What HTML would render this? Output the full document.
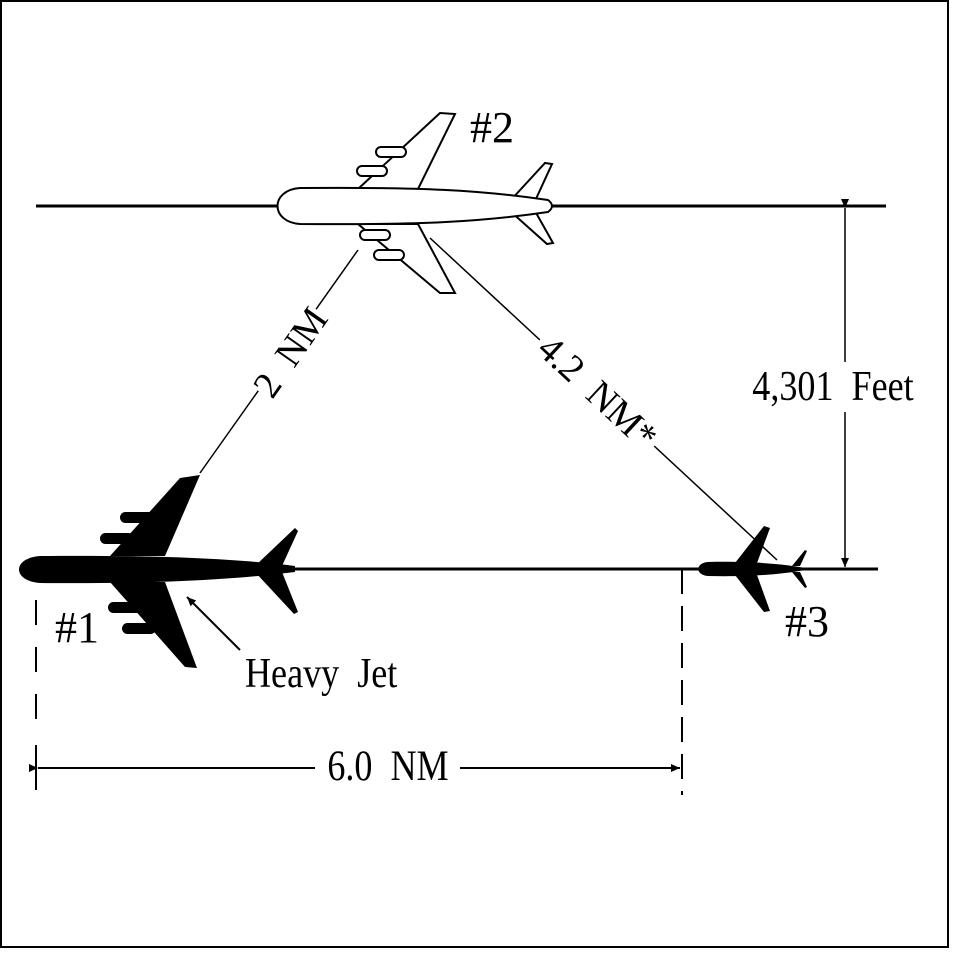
<!DOCTYPE html>
<html><head><style>html,body{margin:0;padding:0;background:#fff}svg{display:block}</style></head>
<body>
<svg width="955" height="955" viewBox="0 0 955 955" xmlns="http://www.w3.org/2000/svg" font-family="'Liberation Serif', serif">
<rect x="1" y="1" width="947" height="946" fill="#fff" stroke="#000" stroke-width="2"/>
<defs>
<marker id="ah" markerWidth="10" markerHeight="10" refX="9" refY="5" orient="auto" markerUnits="userSpaceOnUse">
<path d="M0,1 L9,5 L0,9 Z" fill="#000"/></marker>
</defs>
<line x1="36" y1="206" x2="886" y2="206" stroke="#000" stroke-width="3"/>
<line x1="250" y1="569" x2="878" y2="569" stroke="#000" stroke-width="3"/>
<line x1="845" y1="208" x2="845" y2="567" stroke="#000" stroke-width="1.5" marker-start="url(#ah)" marker-end="url(#ah)"/>
<rect x="738" y="362" width="192" height="50" fill="#fff"/>
<text x="833" y="400" font-size="38" text-anchor="middle" transform="translate(833 400) scale(0.95 1.1) translate(-833 -400)">4,301&#160;&#160;Feet</text>
<line x1="358" y1="250" x2="200" y2="473" stroke="#000" stroke-width="1.5"/>
<line x1="430" y1="238" x2="777" y2="560" stroke="#000" stroke-width="1.5"/>
<g transform="translate(290 352) rotate(-55)">
<rect x="-50" y="-20" width="100" height="40" fill="#fff"/>
<text x="0" y="13" font-size="38" text-anchor="middle">2&#160;&#160;NM</text></g>
<g transform="translate(598 392) rotate(43)">
<rect x="-78" y="-20" width="156" height="40" fill="#fff"/>
<text x="0" y="13" font-size="38" text-anchor="middle">4.2&#160;&#160;NM*</text></g>
<line x1="36" y1="600" x2="36" y2="735" stroke="#000" stroke-width="2" stroke-dasharray="25,22"/>
<line x1="36" y1="745" x2="36" y2="790" stroke="#000" stroke-width="2"/>
<line x1="682" y1="569" x2="682" y2="795" stroke="#000" stroke-width="2" stroke-dasharray="25,12"/>
<line x1="38" y1="768" x2="680" y2="768" stroke="#000" stroke-width="2" marker-start="url(#ah)" marker-end="url(#ah)"/>
<rect x="315" y="745" width="145" height="44" fill="#fff"/>
<text x="388" y="780" font-size="38" text-anchor="middle" transform="translate(388 780) scale(0.95 1.15) translate(-388 -780)">6.0&#160;&#160;NM</text>
<g fill="#fff" stroke="#000" stroke-width="2">
<path d="M358,189 L440,113 L455,114 L418,189 Z"/>
<path d="M358,224 L418,224 L455,293 L440,293 Z"/>
<rect x="376" y="147" width="30" height="10" rx="5"/>
<rect x="357" y="166" width="30" height="10" rx="5"/>
<rect x="360" y="230" width="30" height="10" rx="5"/>
<rect x="374" y="250" width="30" height="10" rx="5"/>
<path d="M510,201 L545,163 L552,164 L535,201 Z"/>
<path d="M510,211 L535,211 L553,243 L547,244 Z"/>
<path d="M300,188 C420,187 480,190 548,200 Q556,206 548,212 C480,222 420,225 300,224 C270,222 270,190 300,188 Z"/>
</g>
<text x="470" y="142" font-size="44">#2</text>
<g fill="#000">
<path d="M110,556 L180,478 L200,475 L165,556 Z"/>
<path d="M110,582 L165,582 L197,668 L185,667 Z"/>
<rect x="120" y="512" width="34" height="11" rx="5.5"/>
<rect x="100" y="533" width="34" height="11" rx="5.5"/>
<rect x="108" y="602" width="34" height="11" rx="5.5"/>
<rect x="122" y="623" width="34" height="11" rx="5.5"/>
<path d="M255,566 L295,528 L298,531 L282,566 Z"/>
<path d="M255,572 L282,572 L298,612 L294,614 Z"/>
<path d="M40,556 C150,555 230,558 295,566 L295,572 C230,580 150,584 40,583 C12,581 12,558 40,556 Z"/>
</g>
<text x="55" y="642" font-size="44">#1</text>
<line x1="240" y1="650" x2="187" y2="597" stroke="#000" stroke-width="2" marker-end="url(#ah)"/>
<text x="245" y="687" font-size="38" transform="translate(245 687) scale(0.95 1.1) translate(-245 -687)">Heavy&#160;&#160;Jet</text>
<g fill="#000">
<path d="M735,563 L764,526 L770,528 L757,563 Z"/>
<path d="M735,575 L757,575 L770,611 L764,612 Z"/>
<path d="M792,566 L805,550 L807,551 L800,566 Z"/>
<path d="M792,572 L800,572 L807,587 L805,588 Z"/>
<path d="M708,562 C750,561 785,564 805,568 L805,570 C785,574 750,577 708,576 C695,575 695,563 708,562 Z"/>
</g>
<text x="785" y="636" font-size="44">#3</text>
</svg>
</body></html>
